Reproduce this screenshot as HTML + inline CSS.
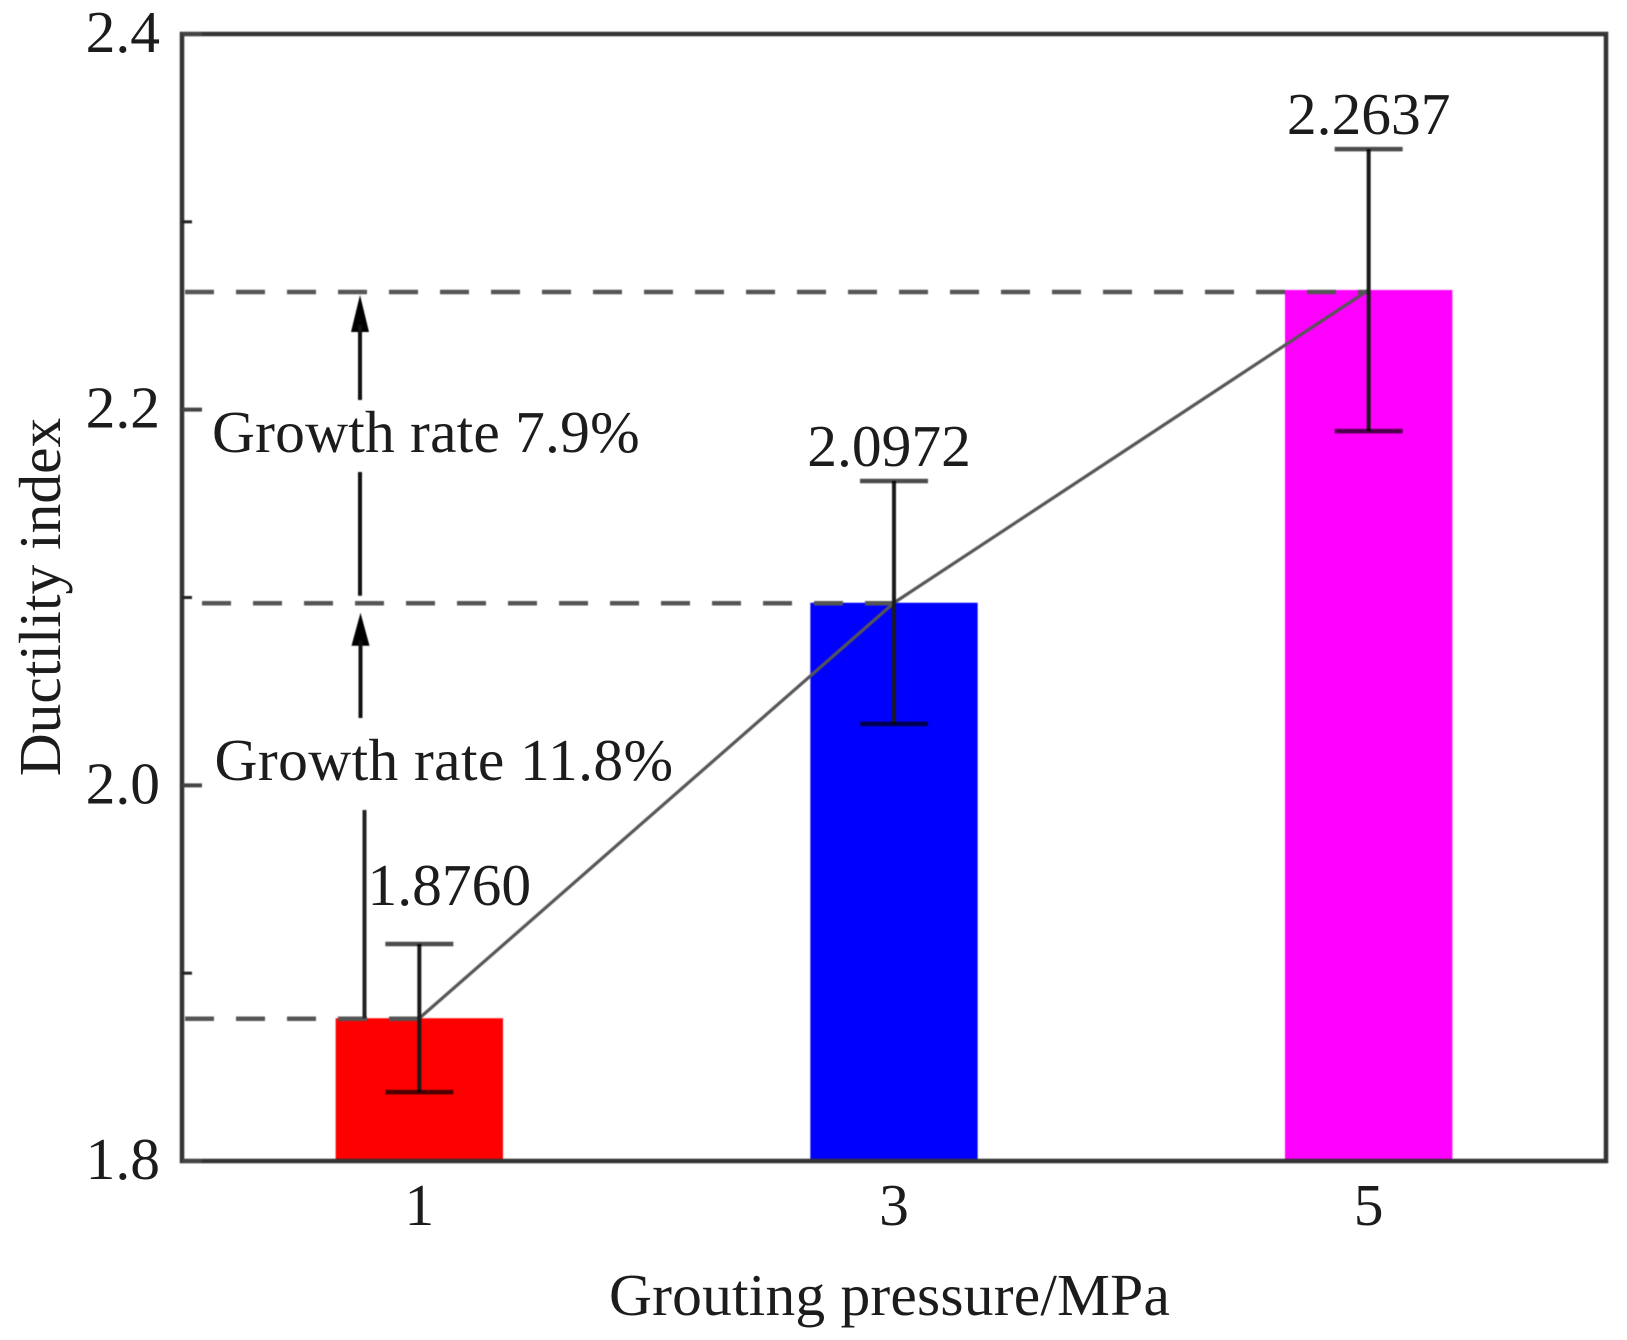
<!DOCTYPE html>
<html lang="en">
<head>
<meta charset="utf-8">
<title>Ductility index vs grouting pressure</title>
<style>
  html, body { margin: 0; padding: 0; background: #fff; }
  svg { display: block; }
  text { font-family: "Liberation Serif", serif; fill: #1c1c1c; font-size: 59.5px; }
</style>
</head>
<body>
<svg id="chart" xmlns="http://www.w3.org/2000/svg" width="1627" height="1340" viewBox="0 0 1627 1340">
  <rect x="0" y="0" width="1627" height="1340" fill="#fff"/>
  <g id="marks" style="filter:blur(0.5px)"></g>
  <g id="axes" style="filter:blur(0.5px)"></g>
  <g id="labels" style="filter:blur(0.35px)"></g>
</svg>
<script>
const categories = [1, 3, 5];
const ductility = [1.8760, 2.0972, 2.2637];
const errorHigh = [1.9155, 2.1620, 2.3387];
const errorLow = [1.8367, 2.0327, 2.1886];
const barColors = ['#ff0000', '#0000ff', '#ff00ff'];
const valueLabels = ['1.8760', '2.0972', '2.2637'];
const yMajorTicks = [1.8, 2.0, 2.2, 2.4];
const yMinorTicks = [1.9, 2.1, 2.3];
const yTickLabels = ['1.8', '2.0', '2.2', '2.4'];
const xTickLabels = ['1', '3', '5'];

const plot = { left: 182, right: 1606, top: 34, bottom: 1161 };
const xDomain = [0, 6];
const yDomain = [1.8, 2.4];
const barHalfWidth = 0.3525;
const capHalfWidth = 34;

function xScale(v) {
  return plot.left + (v - xDomain[0]) / (xDomain[1] - xDomain[0]) * (plot.right - plot.left);
}
function yScale(v) {
  return plot.bottom - (v - yDomain[0]) / (yDomain[1] - yDomain[0]) * (plot.bottom - plot.top);
}
const NS = 'http://www.w3.org/2000/svg';
function mk(tag, attrs, parent) {
  const node = document.createElementNS(NS, tag);
  for (const k in attrs) node.setAttribute(k, attrs[k]);
  parent.appendChild(node);
  return node;
}
const marks = document.getElementById('marks');
const axes = document.getElementById('axes');
const labels = document.getElementById('labels');
let el;

/* bars */
categories.forEach((c, i) => {
  const x0 = xScale(c - barHalfWidth);
  const x1 = xScale(c + barHalfWidth);
  el = mk('rect', { x: x0, y: yScale(ductility[i]), width: x1 - x0, height: plot.bottom - yScale(ductility[i]), fill: barColors[i] }, marks);
  
  
});

/* dashed reference lines */
categories.forEach((c, i) => {
  const start = i === 1 ? 202 : 185;
  const nudge = i === 2 ? 2 : 0.5;
  el = mk('line', { x1: start, x2: xScale(c), y1: yScale(ductility[i]) + nudge, y2: yScale(ductility[i]) + nudge, stroke: '#555', 'stroke-width': 4.5, 'stroke-dasharray': '29 22' }, marks);
  
  
});

/* trend line */
el = mk('polyline', { points: categories.map((c, i) => xScale(c) + ',' + yScale(ductility[i])).join(' '), fill: 'none', stroke: '#555', 'stroke-width': 3.2 }, marks);



/* error bars */
categories.forEach((c, i) => {
  const cx = xScale(c);
  el = mk('line', { x1: cx, x2: cx, y1: yScale(errorHigh[i]), y2: yScale(errorLow[i]), stroke: '#1a1a1a', 'stroke-width': 4 }, marks);
  
  
  el = mk('line', { x1: cx - capHalfWidth, x2: cx + capHalfWidth, y1: yScale(errorHigh[i]), y2: yScale(errorHigh[i]), stroke: '#000', 'stroke-opacity': 0.7, 'stroke-width': 4.5 }, marks);
  
  
  el = mk('line', { x1: cx - capHalfWidth, x2: cx + capHalfWidth, y1: yScale(errorLow[i]), y2: yScale(errorLow[i]), stroke: '#000', 'stroke-opacity': 0.7, 'stroke-width': 4.5 }, marks);
  
  
});

/* growth arrows */
const upperTip = yScale(ductility[2]) + 5;
const lowerTip = yScale(ductility[1]) + 10;
el = mk('polygon', { points: '360,' + upperTip + ' 351,' + (upperTip + 37) + ' 369,' + (upperTip + 37), fill: '#000' }, marks);


el = mk('line', { x1: 360, x2: 360, y1: upperTip + 30, y2: 400, stroke: '#111', 'stroke-width': 4 }, marks);


el = mk('line', { x1: 360, x2: 360, y1: 472, y2: yScale(ductility[1]) - 7, stroke: '#111', 'stroke-width': 4 }, marks);


el = mk('polygon', { points: '360.5,' + lowerTip + ' 351.5,' + (lowerTip + 33) + ' 369.5,' + (lowerTip + 33), fill: '#000' }, marks);


el = mk('line', { x1: 360.5, x2: 360.5, y1: lowerTip + 28, y2: 718, stroke: '#111', 'stroke-width': 4 }, marks);


el = mk('line', { x1: 364.5, x2: 364.5, y1: 810, y2: yScale(ductility[0]), stroke: '#222', 'stroke-width': 4 }, marks);



/* axes frame and ticks */
el = mk('rect', { x: plot.left, y: plot.top, width: plot.right - plot.left, height: plot.bottom - plot.top, fill: 'none', stroke: '#333', 'stroke-width': 4.5 }, axes);


yMajorTicks.forEach((t) => {
  el = mk('line', { x1: plot.left, x2: plot.left + 20, y1: yScale(t), y2: yScale(t), stroke: '#444', 'stroke-width': 4 }, axes);
  
  
});
yMinorTicks.forEach((t) => {
  el = mk('line', { x1: plot.left, x2: plot.left + 10, y1: yScale(t), y2: yScale(t), stroke: '#222', 'stroke-width': 3 }, axes);
  
  
});

/* tick labels */
yMajorTicks.forEach((t, i) => {
  el = mk('text', { x: 160, y: yScale(t) + 18, 'text-anchor': 'end' }, labels);
  el.textContent = yTickLabels[i];
  
  
});
categories.forEach((c, i) => {
  el = mk('text', { x: xScale(c), y: 1225, 'text-anchor': 'middle' }, labels);
  el.textContent = xTickLabels[i];
  
  
});

/* printed values above each error bar */
categories.forEach((c, i) => {
  const shiftX = i === 0 ? 30 : (i === 1 ? -5 : 0);
  const shiftY = i === 0 ? 39 : 15;
  el = mk('text', { x: xScale(c) + shiftX, y: yScale(errorHigh[i]) - shiftY, 'text-anchor': 'middle' }, labels);
  el.textContent = valueLabels[i];
  
  
});
</script>
<script>
/* static text annotations and axis titles */
(function () {
  const layer = document.getElementById('labels');
  let t;
  t = mk('text', { x: 212, y: 452, 'letter-spacing': 0.2 }, layer);
  t.textContent = 'Growth rate 7.9%';
  
  
  t = mk('text', { x: 214.5, y: 780, 'letter-spacing': 0.4 }, layer);
  t.textContent = 'Growth rate 11.8%';
  
  
  t = mk('text', { x: 889.5, y: 1315, 'text-anchor': 'middle', 'letter-spacing': 0.2 }, layer);
  t.textContent = 'Grouting pressure/MPa';
  
  
  t = mk('text', { x: 0, y: 0, 'text-anchor': 'middle', transform: 'translate(60 597) rotate(-90)' }, layer);
  t.textContent = 'Ductility index';
  
  
})();
</script>
</body>
</html>
